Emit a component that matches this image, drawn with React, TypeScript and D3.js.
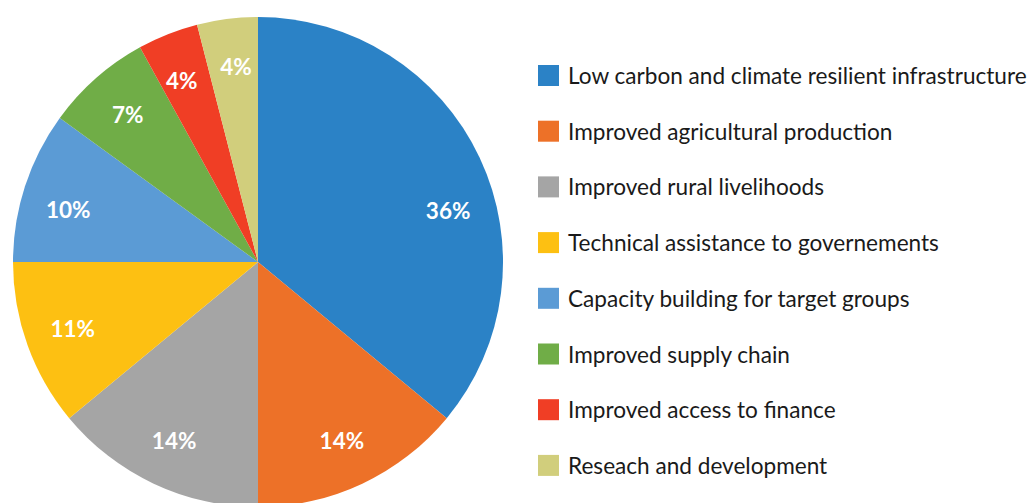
import React from "react";
import * as d3 from "d3";

const categories = [
  "Low carbon and climate resilient infrastructure",
  "Improved agricultural production",
  "Improved rural livelihoods",
  "Technical assistance to governements",
  "Capacity building for target groups",
  "Improved supply chain",
  "Improved access to finance",
  "Reseach and development",
];
const values = [36, 14, 14, 11, 10, 7, 4, 4];
const colors = ["#2B82C6", "#ED7128", "#A5A5A5", "#FDC012", "#5B9BD5", "#70AD47", "#F03E25", "#D1CE7C"];

const W = 1030;
const H = 503;
const cx = 258;
const cy = 262;
const R = 245;
const labelR = 197;
// Excel "best fit" nudges some labels round their slices (degrees)
const labelAngleShift: Record<string, number> = {
  [categories[0]]: 10,
  [categories[4]]: -2.5,
  [categories[6]]: -1.2,
  [categories[7]]: 0.8,
};

export default function App() {
  const pie = d3.pie<number>().sort(null).value((d) => d);
  const arcs = pie(values);
  const arcGen = d3.arc<d3.PieArcDatum<number>>().innerRadius(0).outerRadius(R);
  const total = d3.sum(values);

  const legendX = 538;
  const legendY0 = 65;
  const legendStep = 55.7;
  const sw = 21;

  return (
    <div style={{ position: "absolute", left: 0, top: 0 }}>
      <svg width={W} height={H} style={{ display: "block" }}>
        <rect width={W} height={H} fill="#fff" />
        <g transform={`translate(${cx},${cy})`}>
          {arcs.map((a, i) => (
            <path key={i} d={arcGen(a) || ""} fill={colors[i]} />
          ))}
          {arcs.map((a, i) => {
            const mid = (a.startAngle + a.endAngle) / 2 + ((labelAngleShift[categories[i]] || 0) * Math.PI) / 180;
            const x = labelR * Math.sin(mid);
            const y = -labelR * Math.cos(mid);
            return (
              <text
                key={i}
                x={x}
                y={y}
                textAnchor="middle"
                dominantBaseline="central"
                fill="#fff"
                fontFamily="Lato"
                fontWeight="bold"
                fontSize={22.5}
              >
                {`${Math.round((values[i] / total) * 100)}%`}
              </text>
            );
          })}
        </g>
        <g>
          {categories.map((c, i) => (
            <g key={i} transform={`translate(${legendX},${legendY0 + i * legendStep})`}>
              <rect width={sw} height={sw} fill={colors[i]} />
              <text x={30} y={sw / 2} dominantBaseline="central" fontFamily="Lato" fontSize={22.6} fill="#1a1a1a">
                {c}
              </text>
            </g>
          ))}
        </g>
      </svg>
    </div>
  );
}
